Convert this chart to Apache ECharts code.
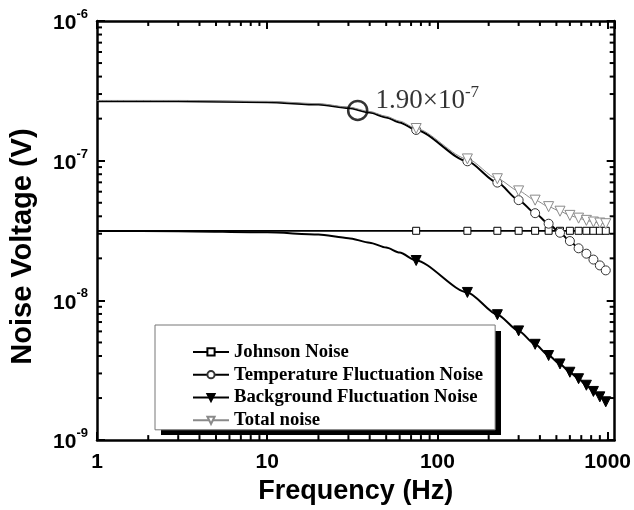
<!DOCTYPE html>
<html>
<head>
<meta charset="utf-8">
<script src="https://cdn.jsdelivr.net/npm/echarts@6/dist/echarts.min.js"></script>
<style>
html,body{margin:0;padding:0;background:#fff;}
#chart{width:634px;height:510px;}
</style>
</head>
<body>
<div id="chart"></div>
<script>
// Frequency points (Hz); symbols are shown from 75 Hz on
const freq = [1, 3, 10, 20, 30, 40, 50, 60, 75, 150, 225, 300, 375, 450, 525, 600, 675, 750, 825, 900, 975];
const johnson = [3.15e-8, 3.15e-8, 3.15e-8, 3.15e-8, 3.15e-8, 3.15e-8, 3.15e-8, 3.15e-8, 3.15e-8, 3.15e-8, 3.15e-8, 3.15e-8, 3.15e-8, 3.15e-8, 3.15e-8, 3.15e-8, 3.15e-8, 3.15e-8, 3.15e-8, 3.15e-8, 3.15e-8];
const temperature = [2.66e-7, 2.66e-7, 2.62e-7, 2.52e-7, 2.38e-7, 2.21e-7, 2.04e-7, 1.88e-7, 1.66e-7, 9.9e-8, 6.97e-8, 5.22e-8, 4.21e-8, 3.54e-8, 3.05e-8, 2.66e-8, 2.36e-8, 2.16e-8, 1.96e-8, 1.78e-8, 1.64e-8];
const background = [3.14e-8, 3.13e-8, 3.07e-8, 2.96e-8, 2.79e-8, 2.59e-8, 2.39e-8, 2.2e-8, 1.93e-8, 1.14e-8, 7.9e-9, 6.05e-9, 4.85e-9, 4.03e-9, 3.51e-9, 3.06e-9, 2.75e-9, 2.47e-9, 2.23e-9, 2.04e-9, 1.88e-9];
const total = [2.70e-7, 2.70e-7, 2.66e-7, 2.56e-7, 2.42e-7, 2.25e-7, 2.08e-7, 1.92e-7, 1.70e-7, 1.03e-7, 7.43e-8, 6.08e-8, 5.22e-8, 4.69e-8, 4.35e-8, 4.06e-8, 3.88e-8, 3.74e-8, 3.64e-8, 3.58e-8, 3.54e-8];
const seriesNames = ['Johnson Noise', 'Temperature Fluctuation Noise', 'Background Fluctuation Noise', 'Total noise'];
const markerFrom = 75;
const annotationPoint = [34, 2.29e-7];
const annotationMantissa = '1.90\u00d710';
const annotationExp = '-7';
const xMin = 1, xMax = 1100;
const yMin = 1e-9, yMax = 1e-6;
const xMinorTicks = [2,3,4,5,6,7,8,9,20,30,40,50,60,70,80,90,200,300,400,500,600,700,800,900];
const yMinorTicks = [2e-9,3e-9,4e-9,5e-9,6e-9,7e-9,8e-9,9e-9,2e-8,3e-8,4e-8,5e-8,6e-8,7e-8,8e-8,9e-8,2e-7,3e-7,4e-7,5e-7,6e-7,7e-7,8e-7,9e-7];

function mk(vals) {
  return freq.map((f, i) => f >= markerFrom ? [f, vals[i]] : {value: [f, vals[i]], symbol: 'none'});
}

const chart = echarts.init(document.getElementById('chart'), null, {renderer: 'canvas'});
const sansBold = {fontFamily: 'Liberation Sans, Arial, sans-serif', fontWeight: 'bold', color: '#000'};
const serif = 'Liberation Serif, Times New Roman, serif';
const axisLineStyle = {lineStyle: {color: '#000', width: 2.5}};

function minorXRender(params, api) {
  const v = api.value(0);
  const b = api.coord([v, yMin]);
  const t = api.coord([v, yMax]);
  return {type: 'group', children: [
    {type: 'line', shape: {x1: b[0], y1: b[1], x2: b[0], y2: b[1] - 5}, style: {stroke: '#000', lineWidth: 2}},
    {type: 'line', shape: {x1: t[0], y1: t[1], x2: t[0], y2: t[1] + 5}, style: {stroke: '#000', lineWidth: 2}}
  ]};
}
function minorYRender(params, api) {
  const v = api.value(1);
  const l = api.coord([xMin, v]);
  const r = api.coord([xMax, v]);
  return {type: 'group', children: [
    {type: 'line', shape: {x1: l[0], y1: l[1], x2: l[0] + 5, y2: l[1]}, style: {stroke: '#000', lineWidth: 2}},
    {type: 'line', shape: {x1: r[0], y1: r[1], x2: r[0] - 5, y2: r[1]}, style: {stroke: '#000', lineWidth: 2}}
  ]};
}

const option = {
  animation: false,
  backgroundColor: '#fff',
  grid: {left: 97, top: 21, right: 18.5, bottom: 63.5, containLabel: false},
  graphic: [{
    type: 'rect', left: 161, top: 331, z: 5,
    shape: {width: 340, height: 104},
    style: {fill: '#000'}
  }],
  legend: {
    data: seriesNames,
    orient: 'vertical',
    left: 155, top: 325, z: 6,
    padding: [17.4, 12, 0, 37],
    itemWidth: 36, itemHeight: 9, itemGap: 3.8,
    backgroundColor: '#fff',
    borderColor: '#777', borderWidth: 1,
    textStyle: {fontFamily: serif, fontWeight: 'bold', fontSize: 18.7, lineHeight: 18, color: '#000'},
    selectedMode: false
  },
  xAxis: [{
    type: 'log', logBase: 10, min: xMin, max: xMax,
    name: 'Frequency (Hz)', nameLocation: 'middle', nameGap: 34,
    nameTextStyle: Object.assign({fontSize: 27}, sansBold),
    axisLine: Object.assign({onZero: false}, axisLineStyle),
    axisTick: {inside: true, length: 8, lineStyle: {color: '#000', width: 2}},
    axisLabel: Object.assign({fontSize: 21, margin: 12, showMaxLabel: false, formatter: v => String(Math.round(v))}, sansBold),
    splitLine: {show: false}
  }, {
    type: 'log', logBase: 10, min: xMin, max: xMax, position: 'top',
    axisLine: Object.assign({onZero: false}, axisLineStyle),
    axisTick: {inside: true, length: 8, lineStyle: {color: '#000', width: 2}},
    axisLabel: {show: false}, splitLine: {show: false}
  }],
  yAxis: [{
    type: 'log', logBase: 10, min: yMin, max: yMax,
    name: 'Noise Voltage (V)', nameLocation: 'middle', nameGap: 60, nameRotate: 90,
    nameTextStyle: Object.assign({fontSize: 29, padding: [0, 32, 0, 0]}, sansBold),
    axisLine: Object.assign({onZero: false}, axisLineStyle),
    axisTick: {inside: true, length: 8, lineStyle: {color: '#000', width: 2}},
    axisLabel: {
      margin: 9,
      formatter: v => '{b|10}{s|' + Math.round(Math.log10(v)) + '}',
      rich: {
        b: Object.assign({fontSize: 21, lineHeight: 26, verticalAlign: 'bottom'}, sansBold),
        s: Object.assign({fontSize: 13, lineHeight: 14, verticalAlign: 'top'}, sansBold)
      }
    },
    splitLine: {show: false}
  }, {
    type: 'log', logBase: 10, min: yMin, max: yMax, position: 'right',
    axisLine: Object.assign({onZero: false}, axisLineStyle),
    axisTick: {inside: true, length: 8, lineStyle: {color: '#000', width: 2}},
    axisLabel: {show: false}, splitLine: {show: false}
  }],
  series: [
    {
      name: seriesNames[0], type: 'line', data: mk(johnson),
      symbol: 'rect', symbolSize: 7,
      lineStyle: {color: '#000', width: 1.8},
      itemStyle: {color: '#fff', borderColor: '#000', borderWidth: 1},
      z: 3
    },
    {
      name: seriesNames[1], type: 'line', data: mk(temperature), smooth: 0.25, smoothMonotone: 'x',
      symbol: 'circle', symbolSize: 9,
      lineStyle: {color: '#000', width: 2},
      itemStyle: {color: '#fff', borderColor: '#333', borderWidth: 1},
      z: 3
    },
    {
      name: seriesNames[2], type: 'line', data: mk(background), smooth: 0.25, smoothMonotone: 'x',
      symbol: 'triangle', symbolRotate: 180, symbolSize: 10,
      lineStyle: {color: '#000', width: 2},
      itemStyle: {color: '#000', borderColor: '#000', borderWidth: 1},
      z: 3
    },
    {
      name: seriesNames[3], type: 'line', data: mk(total), smooth: 0.25, smoothMonotone: 'x',
      symbol: 'triangle', symbolRotate: 180, symbolSize: 10,
      lineStyle: {color: '#8a8a8a', width: 1},
      itemStyle: {color: '#fff', borderColor: '#8a8a8a', borderWidth: 1},
      z: 4
    },
    {
      name: 'annotation', type: 'scatter', data: [annotationPoint],
      symbol: 'circle', symbolSize: 19,
      itemStyle: {color: 'rgba(0,0,0,0)', borderColor: '#000', borderWidth: 2.5},
      label: {
        show: true, position: 'right', distance: 7, offset: [0, -11],
        formatter: '{a|' + annotationMantissa + '}{s|' + annotationExp + '}',
        rich: {
          a: {fontFamily: serif, fontSize: 27, lineHeight: 30, color: '#000', verticalAlign: 'bottom'},
          s: {fontFamily: serif, fontSize: 17, lineHeight: 18, color: '#000', verticalAlign: 'top'}
        }
      },
      z: 4
    },
    {
      name: 'xminor', type: 'custom', xAxisIndex: 0, yAxisIndex: 0,
      data: xMinorTicks.map(v => [v, yMin]), renderItem: minorXRender, silent: true, z: 10
    },
    {
      name: 'yminor', type: 'custom', xAxisIndex: 0, yAxisIndex: 0,
      data: yMinorTicks.map(v => [xMin, v]), renderItem: minorYRender, silent: true, z: 10
    }
  ]
};
chart.setOption(option);
</script>
</body>
</html>
